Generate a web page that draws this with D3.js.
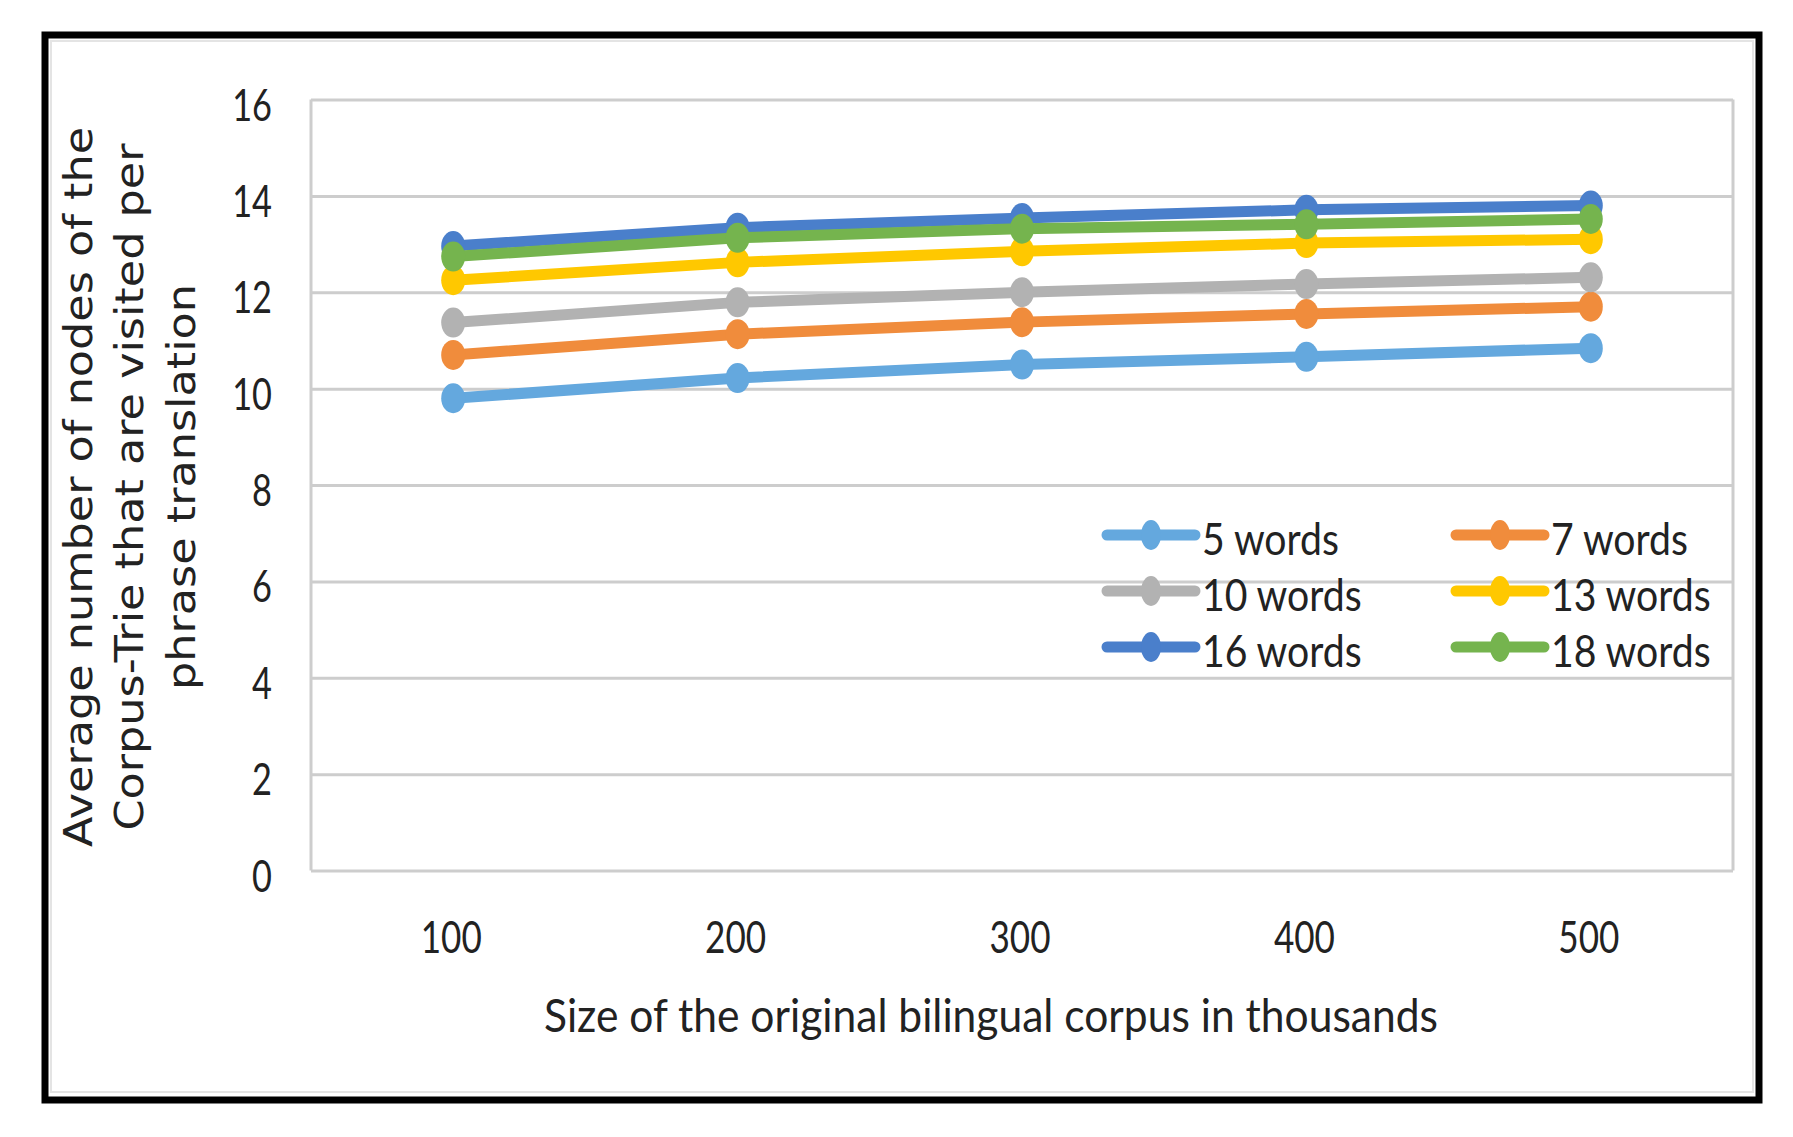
<!DOCTYPE html>
<html>
<head>
<meta charset="utf-8">
<script src="https://cdn.jsdelivr.net/npm/d3@7"></script>
<style>
  html, body { margin: 0; padding: 0; background: #fff; }
  svg { display: block; }
</style>
</head>
<body>
<svg id="chart" width="1793" height="1137"></svg>
<script>
// ---- data ----
const categories = ["100", "200", "300", "400", "500"];
const seriesNames = ["5 words", "7 words", "10 words", "13 words", "16 words", "18 words"];
const words5  = [9.80, 10.22, 10.50, 10.66, 10.84];
const words7  = [10.70, 11.13, 11.38, 11.55, 11.70];
const words10 = [11.37, 11.79, 12.00, 12.17, 12.31];
const words13 = [12.25, 12.62, 12.85, 13.02, 13.10];
const words16 = [12.96, 13.34, 13.54, 13.71, 13.80];
const words18 = [12.74, 13.13, 13.32, 13.41, 13.52];
const yTicks = [0, 2, 4, 6, 8, 10, 12, 14, 16];
const xTitle = "Size of the original bilingual corpus in thousands";
const yTitleLines = ["Average number of nodes of the", "Corpus-Trie that are visited per", "phrase translation"];

const seriesValues = [words5, words7, words10, words13, words16, words18];
const colors = ["#64A8DE", "#F08C3C", "#B2B2B2", "#FFC800", "#4A7FCB", "#75B44E"];

// ---- layout ----
const svg = d3.select("#chart");
const plot = { left: 311, right: 1733, top: 99.5, bottom: 870.5 };
const labelFont = "Lato, 'Open Sans', sans-serif";
const sx = 0.78; // horizontal compression of tick labels
const sxLeg = 0.87;

const x = d3.scalePoint().domain(categories).range([plot.left, plot.right]).padding(0.5);
const y = d3.scaleLinear().domain([0, 16]).range([plot.bottom, plot.top]);

// outer black frame
svg.append("rect").attr("x", 45).attr("y", 35).attr("width", 1714).attr("height", 1065)
  .attr("fill", "#fff").attr("stroke", "#000").attr("stroke-width", 7);
svg.append("rect").attr("x", 51).attr("y", 41).attr("width", 1702).attr("height", 1051)
  .attr("fill", "none").attr("stroke", "#e4e4e4").attr("stroke-width", 2);

// gridlines via axis
const yGrid = d3.axisLeft(y).tickValues(yTicks).tickSize(-(plot.right - plot.left)).tickFormat("");
const gGrid = svg.append("g").attr("transform", `translate(${plot.left},0)`).call(yGrid);
gGrid.select(".domain").remove();
gGrid.selectAll(".tick line").attr("stroke", "#cdcdcd").attr("stroke-width", 3);
// plot vertical borders
[plot.left, plot.right].forEach(px => {
  svg.append("line").attr("x1", px).attr("x2", px).attr("y1", y(16)).attr("y2", y(0))
    .attr("stroke", "#cdcdcd").attr("stroke-width", 3);
});

// y tick labels
svg.append("g").selectAll("text").data(yTicks).join("text")
  .attr("transform", d => `translate(272,${y(d) + 21}) scale(${sx},1)`)
  .attr("text-anchor", "end")
  .attr("font-family", labelFont).attr("font-size", 44).attr("fill", "#222")
  .text(d => d);

// x tick labels
svg.append("g").selectAll("text").data(categories).join("text")
  .attr("transform", d => `translate(${x(d) - 2},953) scale(${sx},1)`)
  .attr("text-anchor", "middle")
  .attr("font-family", labelFont).attr("font-size", 45).attr("fill", "#222")
  .text(d => d);

// x title
svg.append("text")
  .attr("x", 544).attr("y", 1032)
  .attr("textLength", 894).attr("lengthAdjust", "spacingAndGlyphs")
  .attr("font-family", labelFont).attr("font-size", 47).attr("fill", "#222")
  .text(xTitle);

// y title
const yt = svg.append("g").attr("transform", "translate(0,487) scale(0.86,1) rotate(-90)");
const ytBase = [107, 166, 227];
yt.selectAll("text").data(yTitleLines).join("text")
  .attr("x", 0).attr("y", (d, i) => ytBase[i])
  .attr("text-anchor", "middle")
  .attr("font-family", "'DejaVu Sans', Verdana, sans-serif").attr("font-size", 44.5).attr("fill", "#222")
  .text(d => d);

// series
const line = d3.line().x((d, i) => x(categories[i])).y(d => y(d));
seriesValues.forEach((vals, si) => {
  const g = svg.append("g");
  g.append("path").datum(vals).attr("d", line)
    .attr("fill", "none").attr("stroke", colors[si]).attr("stroke-width", 11)
    .attr("stroke-linejoin", "round").attr("stroke-linecap", "round");
  g.selectAll("ellipse").data(vals).join("ellipse")
    .attr("cx", (d, i) => x(categories[i])).attr("cy", d => y(d))
    .attr("rx", 12).attr("ry", 15).attr("fill", colors[si]);
});

// legend
const legCols = [1151, 1500];
const legRows = [535, 591, 647];
const leg = svg.append("g");
seriesNames.forEach((name, i) => {
  const cx = legCols[i % 2], cy = legRows[Math.floor(i / 2)];
  leg.append("line").attr("x1", cx - 44).attr("x2", cx + 44).attr("y1", cy).attr("y2", cy)
    .attr("stroke", colors[i]).attr("stroke-width", 11).attr("stroke-linecap", "round");
  leg.append("ellipse").attr("cx", cx).attr("cy", cy).attr("rx", 10).attr("ry", 15).attr("fill", colors[i]);
  leg.append("text")
    .attr("transform", `translate(${cx + 51},${cy + 20}) scale(${sxLeg},1)`)
    .attr("font-family", labelFont).attr("font-size", 45).attr("fill", "#222")
    .text(name);
});
</script>
</body>
</html>
